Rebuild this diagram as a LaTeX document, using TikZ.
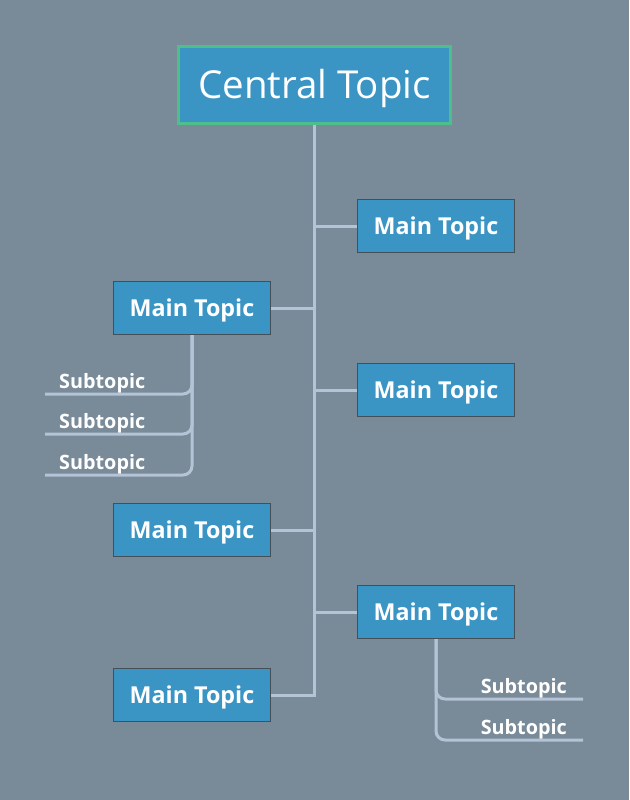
\documentclass[tikz,border=0pt]{standalone}
\usepackage{fontspec}
\setmainfont{Open Sans}
\usetikzlibrary{positioning}
\definecolor{bgcol}{HTML}{798A99}
\definecolor{topicblue}{HTML}{3A94C4}
\definecolor{centreline}{HTML}{4DBF8A}
\definecolor{boxline}{HTML}{454F58}
\definecolor{linkcol}{HTML}{B4C4D6}

\begin{document}
\begin{tikzpicture}[
    x=1pt, y=-1pt,
    central/.style={rectangle, draw=centreline, line width=3pt, fill=topicblue,
                    minimum width=272pt, minimum height=77pt, text=white,
                    text height=27.5pt, text depth=0pt,
                    font=\fontsize{38.5}{42}\selectfont},
    maintopic/.style={rectangle, draw=boxline, line width=1.4pt, fill=topicblue,
                      minimum width=157pt, minimum height=53pt, text=white,
                      text height=16.6pt, text depth=0pt,
                      font=\fontsize{23.3}{26}\selectfont\bfseries},
    subleft/.style={anchor=south west, text width=119pt, inner xsep=14pt,
                    inner ysep=5pt, text depth=0pt, align=left, text=white,
                    font=\fontsize{19.8}{22}\selectfont\bfseries},
    subright/.style={anchor=south east, text width=115pt, inner xsep=16pt,
                     inner ysep=5pt, text depth=0pt, align=right, text=white,
                     font=\fontsize{19.8}{22}\selectfont\bfseries},
    link/.style={draw=linkcol, line width=3pt},
    sublink/.style={link, rounded corners=9pt}
]
\useasboundingbox[fill=bgcol] (0,0) rectangle (629,800);

% --- centre ---
\node[central] (ct) at (314.5,85) {Central Topic};

% --- main topics ---
\node[maintopic] (m1) at (436,226) {Main Topic};
\node[maintopic] (m2) at (192,308) {Main Topic};
\node[maintopic] (m3) at (436,390) {Main Topic};
\node[maintopic] (m4) at (192,530) {Main Topic};
\node[maintopic] (m5) at (436,612) {Main Topic};
\node[maintopic] (m6) at (192,695) {Main Topic};

% --- subtopics ---
\node[subleft] (s1) at (45,394) {Subtopic};
\node[subleft] (s2) at (45,434) {Subtopic};
\node[subleft] (s3) at (45,475) {Subtopic};
\node[subright] (s4) at (583,699) {Subtopic};
\node[subright] (s5) at (583,740) {Subtopic};

% trunk
\draw[link] (ct.south) |- (m6.east);
\draw[link] (m1.west) -- (m1.west -| ct.south);
\draw[link] (m2.east) -- (m2.east -| ct.south);
\draw[link] (m3.west) -- (m3.west -| ct.south);
\draw[link] (m4.east) -- (m4.east -| ct.south);
\draw[link] (m5.west) -- (m5.west -| ct.south);

% subtopic links
\draw[sublink] (m2.south) |- (s1.south west);
\draw[sublink] (m2.south) |- (s2.south west);
\draw[sublink] (m2.south) |- (s3.south west);
\draw[sublink] (m5.south) |- (s4.south east);
\draw[sublink] (m5.south) |- (s5.south east);

\end{tikzpicture}
\end{document}
